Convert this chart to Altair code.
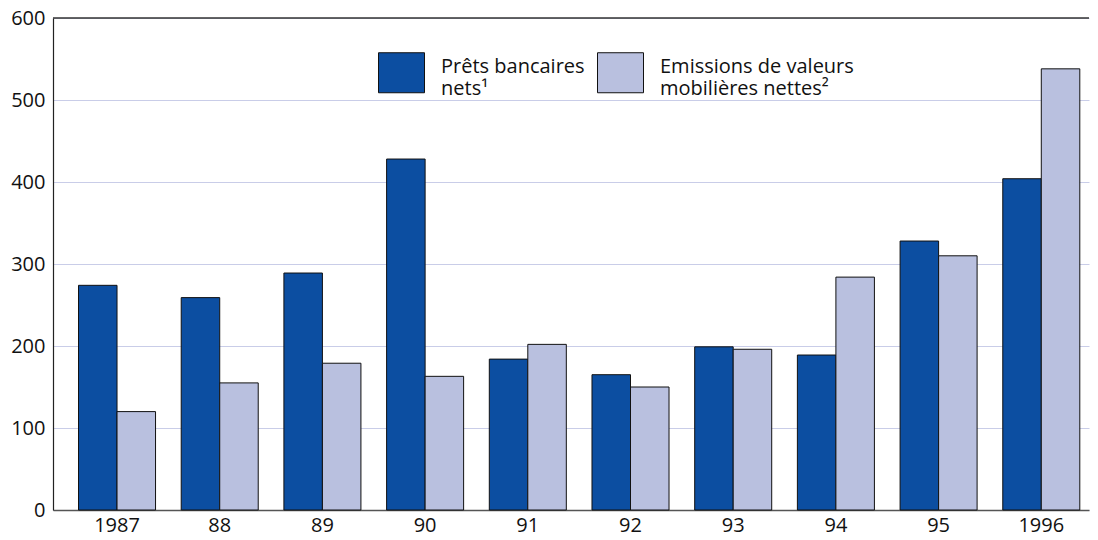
import altair as alt
import pandas as pd

years = ["1987", "88", "89", "90", "91", "92", "93", "94", "95", "1996"]
series_names = ["Prêts bancaires|nets¹", "Emissions de valeurs|mobilières nettes²"]
prets = [274, 259, 289, 428, 184, 165, 199, 189, 328, 404]
emissions = [120, 155, 179, 163, 202, 150, 196, 284, 310, 538]
colors = ["#0c4ea1", "#b9c0df"]
y_ticks = [0, 100, 200, 300, 400, 500, 600]

rows = []
for i, yr in enumerate(years):
    rows.append({"year": yr, "series": series_names[0], "value": prets[i]})
    rows.append({"year": yr, "series": series_names[1], "value": emissions[i]})
df = pd.DataFrame(rows)

FONT = "Open Sans"
FS = 20

bars = alt.Chart(df).mark_bar(stroke="#111111", strokeWidth=1).encode(
    x=alt.X("year:N", sort=years, title=None,
            scale=alt.Scale(paddingInner=0.25, paddingOuter=0.169, align=0.735),
            axis=alt.Axis(labelAngle=0, ticks=False, labelPadding=5,
                          domainColor="#555555", domainWidth=1.5, grid=False,
                          labelFontSize=FS, labelFont=FONT, labelColor="#111111")),
    xOffset=alt.XOffset("series:N", sort=series_names,
                        scale=alt.Scale(paddingInner=0, paddingOuter=0)),
    y=alt.Y("value:Q", title=None,
            scale=alt.Scale(domain=[0, 600], nice=False),
            axis=alt.Axis(values=y_ticks, ticks=False, labelPadding=8,
                          domainColor="#222222", domainWidth=1.2,
                          gridColor="#c9cde8", gridWidth=1,
                          labelFontSize=FS, labelFont=FONT, labelColor="#111111")),
    color=alt.Color("series:N", sort=series_names,
                    scale=alt.Scale(domain=series_names, range=colors),
                    legend=alt.Legend(orient="none", legendX=325, legendY=31,
                                      direction="horizontal", title=None,
                                      symbolType="M -1 -0.87 H 1 V 0.87 H -1 Z",
                                      symbolSize=2116, symbolStrokeColor="#111111",
                                      symbolStrokeWidth=1, symbolOpacity=1,
                                      labelFontSize=FS, labelFont=FONT,
                                      labelBaseline="alphabetic",
                                      labelColor="#111111", labelOffset=16,
                                      columnPadding=10, padding=0,
                                      labelLimit=400,
                                      labelExpr="split(datum.label, '|')")),
)

top_rule = alt.Chart(pd.DataFrame({"v": [600]})).mark_rule(
    color="#333333", strokeWidth=1.5).encode(y="v:Q")

chart = alt.layer(bars, top_rule).properties(
    width=1036, height=492,
    padding={"left": 45, "top": 10, "right": 1, "bottom": 22},
    autosize=alt.AutoSizeParams(type="none"),
    background="white",
).configure_view(strokeWidth=0, stroke="transparent")

chart.save("out.html", embed_options={"renderer": "svg", "actions": False})
